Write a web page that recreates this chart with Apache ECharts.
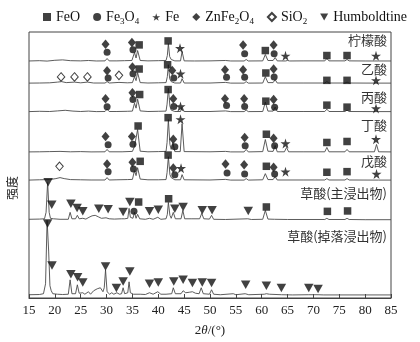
<!DOCTYPE html>
<html>
<head>
<meta charset="utf-8">
<script src="https://cdn.jsdelivr.net/npm/echarts@6/dist/echarts.min.js"></script>
<style>
html,body{margin:0;padding:0;background:#fff;}
#chart{width:420px;height:342px;}
</style>
</head>
<body>
<div id="chart"></div>
<script>
// XRD patterns of leach residues, 2θ (°) vs. intensity (a.u., above each pattern's own baseline)
const sampleNames = ['柠檬酸', '乙酸', '丙酸', '丁酸', '戊酸', '草酸(主浸出物)', '草酸(掉落浸出物)'];

const citric = [
  [15,0.5],[17,0.8],[18.5,0.4],[20,1.2],[21.5,1.6],[23,0.8],[25,0.6],[26.5,1],[28,0.5],
  [29.7,0.6],[30.1,3],[30.5,0.6],[32,0.6],[33.5,0.8],
  [34.9,1],[35.4,9],[35.7,3.5],[36.0,11],[36.5,1],
  [38,0.6],[40,0.8],[41.5,1],[41.75,6],[41.95,18],[42.2,5],[42.5,2],[42.8,2.5],[43.2,0.6],
  [44.3,0.6],[44.6,10],[45.0,0.6],
  [47,0.5],[50,0.6],[53,1],[54,0.5],[56.6,0.5],[57.0,2],[57.4,0.5],
  [60.2,0.6],[60.7,7],[61.2,1],[62.2,1],[62.6,4],[63.0,0.6],
  [64.6,0.5],[65,1],[65.4,0.5],[68,0.6],
  [72.2,0.6],[72.6,3],[73.0,0.6],[76.1,0.6],[76.5,2],[76.9,0.6],[80,0.5],
  [81.9,0.5],[82.2,2],[82.6,0.5],[85,0.5]
];
const acetic = [
  [15,0.5],[17,0.6],[19,0.8],[20.5,1.5],[21.3,2],[22.2,1],[23.8,1.5],[25,0.8],[26.3,1.5],[27.5,0.6],
  [29.7,0.6],[30.1,2],[30.5,0.6],[32.4,1.2],[34,0.8],
  [35.0,1],[35.4,7],[35.7,3],[36.0,11],[36.5,1],
  [38,0.6],[40,0.8],[41.5,1],[41.75,7],[41.95,19],[42.2,5],[42.5,2],[42.8,3],[43.2,0.6],
  [44.3,0.6],[44.6,5],[45.0,0.6],
  [50,0.6],[53,1.2],[54,0.5],[56.6,0.5],[57.0,2],[57.4,0.5],
  [60.2,0.6],[60.7,7],[61.2,1],[62.2,1],[62.6,4],[63.0,0.6],
  [68,0.6],[72.2,0.6],[72.6,2],[73.0,0.6],[76.1,0.6],[76.5,1.5],[76.9,0.6],
  [81.9,0.5],[82.2,1.5],[82.6,0.5],[85,0.5]
];
const propionic = [
  [15,0.5],[17,0.8],[19,0.6],[20.5,1.2],[22,1.8],[23.5,1],[25,0.6],[26.5,1],[28,0.5],
  [29.7,0.6],[30.1,3],[30.5,0.6],[32,0.6],[34,0.8],
  [35.0,1],[35.4,9],[35.7,4],[36.0,13],[36.5,1.2],
  [38,0.6],[40,0.8],[41.5,1],[41.7,8],[41.95,24],[42.25,6],[42.5,2],[42.8,3],[43.2,0.6],
  [44.3,0.6],[44.6,5],[45.0,0.6],
  [50,0.6],[53,1.2],[54,0.5],[56.6,0.5],[57.0,2],[57.4,0.5],
  [60.2,0.6],[60.7,10],[61.2,1],[62.2,1],[62.6,5],[63.0,0.6],
  [68,0.6],[72.2,0.6],[72.6,3],[73.0,0.6],[76.1,0.6],[76.5,2],[76.9,0.6],
  [81.9,0.5],[82.2,1.5],[82.6,0.5],[85,0.5]
];
const butyric = [
  [15,0.5],[17,0.6],[19,0.8],[21,1],[23,0.6],[25,0.8],[27,0.5],
  [29.7,0.6],[30.1,3],[30.5,0.6],[33,0.6],
  [35.0,1],[35.4,6],[35.7,4],[36.0,23],[36.5,1.2],
  [38,0.6],[40,0.8],[41.5,1],[41.7,10],[41.95,33],[42.25,8],[42.5,3],[42.8,10],[43.2,0.8],
  [44.25,0.8],[44.6,29],[45.0,0.8],
  [50,0.6],[53,1],[54,0.5],[56.6,0.5],[57.0,3],[57.4,0.5],
  [60.2,0.8],[60.7,13],[61.2,1.2],[62.2,1],[62.6,7],[63.0,0.6],
  [64.4,0.6],[64.8,5],[65.2,0.6],[68,0.6],
  [72.2,0.6],[72.6,5],[73.0,0.6],[76.1,0.6],[76.5,3],[76.9,0.6],
  [81.8,0.6],[82.2,8],[82.6,0.6],[85,0.5]
];
const valeric = [
  [15,0.5],[17,0.8],[19,1],[20.2,2],[21,3],[21.8,2],[23,1],[25,0.8],[27,0.6],
  [29.7,0.6],[30.1,3],[30.5,0.6],[32,0.8],[34,1],
  [35.0,1.2],[35.4,10],[35.7,5],[36.0,13],[36.5,1.5],
  [38,0.8],[40,0.8],[41.5,1],[41.7,8],[41.95,24],[42.25,6],[42.5,3],[42.8,5],[43.2,0.8],
  [44.3,0.8],[44.6,6],[45.0,0.8],
  [50,0.6],[53,1.2],[54,0.5],[56.6,0.5],[57.0,2],[57.4,0.5],
  [60.2,0.8],[60.7,7],[61.2,1],[62.2,1],[62.6,4],[63.0,0.6],
  [68,0.6],[72.2,0.6],[72.6,2],[73.0,0.6],[76.1,0.6],[76.5,2],[76.9,0.6],
  [81.9,0.5],[82.2,1.5],[82.6,0.5],[85,0.5]
];
const oxalicMain = [
  [15,1],[17,1.2],[18.0,1.5],[18.3,8],[18.6,38],[18.9,8],[19.15,2],[19.4,3],[19.7,1.5],
  [21,1],[22.6,1],[22.95,8],[23.3,1.5],[24.0,1.5],[24.35,5],[24.7,1.5],[25.4,2],[26,1.2],
  [26.6,3],[27.2,4.5],[27.8,5],[28.4,3.5],[29,2],[29.9,2.5],[30.5,1.5],[31.5,1.2],
  [32.9,1.5],[33.2,3],[33.5,1.5],[34.1,2],[34.35,12],[34.6,3],[35.1,2],[35.4,8],[35.7,2],[36.0,6],[36.4,1.5],
  [37.5,1],[38.3,2],[39,1],[39.9,3],[40.5,1],[41.5,1.5],[41.75,6],[41.95,18],[42.25,5],[42.5,2],[42.9,8],[43.3,1.5],
  [44.4,1.5],[44.75,10],[45.1,1.5],[46.5,1.5],[48.0,1.5],[48.4,7],[48.8,1.5],[49.9,1.2],[50.3,5],[50.7,1],
  [53,0.8],[57.3,1.5],[58,0.8],[60.2,1],[60.7,10],[61.2,1.2],[62.5,1],[65,0.8],
  [72.2,0.8],[72.6,2],[73,0.8],[76.1,0.8],[76.5,2],[76.9,0.8],[80,0.6],[85,0.6]
];
const oxalicFall = [
  [15,1],[17,1.2],[17.8,2],[18.2,12],[18.5,76],[18.8,45],[19.05,10],[19.3,5],[19.6,2],
  [20.5,1.5],[21.5,1.2],[22.6,1.5],[22.95,16],[23.3,2],[24.0,2],[24.35,11],[24.7,2.5],[25.4,3],[25.8,1.5],
  [26.5,4],[26.9,1.5],[27.5,5],[28.2,7],[28.8,8],[29.3,4],[29.55,8],[29.8,26],[30.1,4],[30.6,1.5],
  [31.0,3],[31.4,1.5],[32.0,3],[32.5,1.5],[32.9,2],[33.2,8],[33.5,2],[34.1,3],[34.35,14],[34.6,3],[35.2,1.5],
  [36.5,1.5],[37.5,1.2],[38.3,3],[39,1.5],[39.9,4],[40.5,1.5],[41.5,1.5],[42.6,2],[42.9,8],[43.3,2],
  [44.4,2],[44.8,5],[45.3,3],[46.0,3.5],[46.6,4],[47.2,2.5],[47.9,2],[48.3,8],[48.7,2],[49.9,1.5],[50.3,6],[50.7,1.5],
  [52,1],[54.5,2],[55,1],[56.8,2],[57.5,1],[60.5,1.5],[60.9,2],[61.5,1.5],[63.8,1],[66,0.8],[69,1],[70.9,1],[72,0.8],[85,0.8]
];
const patterns = [citric, acetic, propionic, butyric, valeric, oxalicMain, oxalicFall];
// vertical stacking offset of each pattern
const offsets = [238.3, 216, 187.3, 146.7, 118.3, 78.3, 2.3];

// phase identification marks: [2θ, height on the stacked intensity scale]
const feoMarks = [
  [36.3,255],[41.9,259],[60.7,249.3],[72.6,244.3],[76.5,244.3],
  [36.3,230.7],[41.8,235],[60.8,226.7],[72.6,219.3],[76.5,219.3],
  [36.4,205],[41.9,210],[60.8,198.3],[72.6,194.3],[76.5,192.3],
  [36.1,173.3],[41.9,181.7],[60.9,165],[72.6,156.7],[76.5,157.7],
  [36.5,137.7],[41.9,144],[60.9,132.7],[72.6,126.7],[76.5,127.3],
  [36.2,96.7],[42.0,100],[60.9,91.7],[72.7,87.3],[76.6,87.7]
];
const fe3o4Marks = [
  [30.1,247.7],[35.1,250],[56.7,246],[62.4,246],
  [30.3,221.7],[35.1,226],[43.0,221.7],[53.2,222.3],[56.7,222.3],[62.4,222.7],
  [30.1,192.7],[35.1,200],[43.0,193],[53.2,194],[56.7,193],[62.5,192.3],
  [30.3,154.3],[35.1,155],[43.2,152.3],[56.8,153.3],[62.5,153.3],
  [30.3,127.3],[35.2,130],[43.2,124.3],[53.3,126],[56.7,125],[62.5,125],
  [35.3,87.3]
];
const feMarks = [
  [44.2,251.7],[64.6,244],[82.1,244],
  [44.3,226],[82.1,219.3],
  [44.3,193],[82.1,191],
  [44.3,180],[64.6,155.7],[82.1,160],
  [44.4,130.7],[64.6,127.3],[82.2,125]
];
const znfe2o4Marks = [
  [29.8,255.7],[34.9,257.3],[56.4,255],[62.3,255],
  [30.1,229],[35.0,232.7],[42.7,229.3],[52.9,230],[56.4,230],[62.3,230.7],
  [29.8,200.7],[35.0,206.7],[42.9,200.7],[52.9,200.7],[56.6,200.7],[62.3,200],
  [29.8,162.7],[34.9,162.7],[42.9,160],[56.7,161.7],[62.3,161],
  [30.1,135],[35.0,136.7],[42.9,131],[53.0,135],[56.6,134.3],[62.3,131.7]
];
const sio2Marks = [
  [21.2,222.7],[23.8,222.7],[26.3,222.7],[32.4,224.3],
  [20.9,132.7]
];
const humboldtineMarks = [
  [18.7,116.7],[19.4,94],[23.1,95],[24.3,90.7],[25.4,87.3],[28.5,90],[30.3,89.3],[33.2,86.7],
  [34.5,96.7],[38.3,87.3],[40.0,89],[43.2,90],[44.8,91.7],[48.5,88.3],[50.4,88.3],[57.4,87.7],
  [18.6,75],[19.45,32.7],[23.1,24],[24.4,21],[25.4,15.7],[29.8,31.7],[31.9,10],[33.2,16.7],
  [34.5,26.7],[38.3,14.3],[40.0,15.7],[43.0,16.7],[44.8,18.3],[46.6,15],[48.5,15.7],[50.3,15],
  [56.9,13.3],[60.9,12.3],[63.8,10],[69.1,10],[70.9,9]
];
const xTicks = [15, 20, 25, 30, 35, 40, 45, 50, 55, 60, 65, 70, 75, 80, 85];

const STAR = 'path://M50,0 L61,35 L98,35 L68,57 L79,91 L50,70 L21,91 L32,57 L2,35 L39,35 Z';
const DOWN_TRI = 'path://M0,0 L10,0 L5,9 Z';
const serif = '"Liberation Serif", "Times New Roman", serif';
const cjk = '"Noto Sans CJK SC", sans-serif';

const chart = echarts.init(document.getElementById('chart'), null, { renderer: 'canvas' });

const lineSeries = patterns.map((pts, i) => ({
  type: 'line',
  name: sampleNames[i],
  data: pts.map(p => [p[0], p[1] + offsets[i]]),
  showSymbol: false,
  symbol: 'none',
  silent: true,
  lineStyle: { color: '#4a4a4a', width: 0.9 },
  z: 1
}));

function markSeries(name, data, symbol, size, hollow) {
  return {
    type: 'scatter',
    name: name,
    data: data,
    symbol: symbol,
    symbolSize: size,
    itemStyle: hollow
      ? { color: '#fff', borderColor: '#111', borderWidth: 1 }
      : { color: '#111' },
    z: 5
  };
}

const legendText = {
  FeO: '{n|FeO}',
  Fe3O4: '{n|Fe}{s|3}{n|O}{s|4}',
  Fe: '{n|Fe}',
  ZnFe2O4: '{n|ZnFe}{s|2}{n|O}{s|4}',
  SiO2: '{n|SiO}{s|2}',
  Humboldtine: '{n|Humboldtine}'
};

const labelTops = [34, 63, 91, 119, 155, 187, 230];

chart.setOption({
  animation: false,
  backgroundColor: '#fff',
  grid: { left: 29, right: 29, top: 32, bottom: 42, show: true, borderColor: '#444', borderWidth: 1 },
  legend: {
    left: 38, top: 5,
    itemWidth: 8, itemHeight: 8, itemGap: 13,
    icon: 'rect',
    data: [
      { name: 'FeO', icon: 'rect' },
      { name: 'Fe3O4', icon: 'circle' },
      { name: 'Fe', icon: STAR },
      { name: 'ZnFe2O4', icon: 'diamond' },
      { name: 'SiO2', icon: 'diamond' },
      { name: 'Humboldtine', icon: DOWN_TRI }
    ],
    formatter: n => legendText[n],
    textStyle: {
      color: '#111', fontFamily: serif, fontSize: 14,
      rich: {
        n: { fontFamily: serif, fontSize: 14, lineHeight: 18, color: '#111' },
        s: { fontFamily: serif, fontSize: 9, lineHeight: 9, verticalAlign: 'bottom', color: '#111' }
      }
    }
  },
  xAxis: {
    type: 'value', min: 15, max: 85, interval: 5,
    axisLine: { show: true, lineStyle: { color: '#444' } },
    axisTick: { show: true, inside: true, length: 4, lineStyle: { color: '#444' } },
    axisLabel: { color: '#222', fontFamily: serif, fontSize: 13, margin: 6,
      customValues: xTicks, formatter: v => String(v) },
    splitLine: { show: false },
    name: '{a|2}{i|θ}{a|/(°)}',
    nameLocation: 'middle', nameGap: 26,
    nameTextStyle: {
      rich: {
        a: { fontFamily: serif, fontSize: 13, color: '#222' },
        i: { fontFamily: serif, fontSize: 13, fontStyle: 'italic', color: '#222' }
      }
    }
  },
  yAxis: {
    type: 'value', min: 0, max: 268,
    axisLine: { show: false }, axisTick: { show: false }, axisLabel: { show: false },
    splitLine: { show: false }
  },
  graphic: [
    {
      type: 'text', x: 12, y: 188, rotation: Math.PI / 2,
      style: { text: '强度', fill: '#222', font: '12px ' + cjk, align: 'center', verticalAlign: 'middle' }
    }
  ].concat(sampleNames.map((t, i) => ({
    type: 'text', right: 33, top: labelTops[i],
    style: { text: t, fill: '#333', font: '13px ' + cjk }
  }))),
  series: lineSeries.concat([
    markSeries('FeO', feoMarks, 'rect', 7.5),
    markSeries('Fe3O4', fe3o4Marks, 'circle', 7),
    markSeries('Fe', feMarks, STAR, 10),
    markSeries('ZnFe2O4', znfe2o4Marks, 'diamond', [8, 9.5]),
    markSeries('SiO2', sio2Marks, 'diamond', [7.5, 8.5], true),
    markSeries('Humboldtine', humboldtineMarks, DOWN_TRI, [9.5, 8.5])
  ])
});
</script>
</body>
</html>
